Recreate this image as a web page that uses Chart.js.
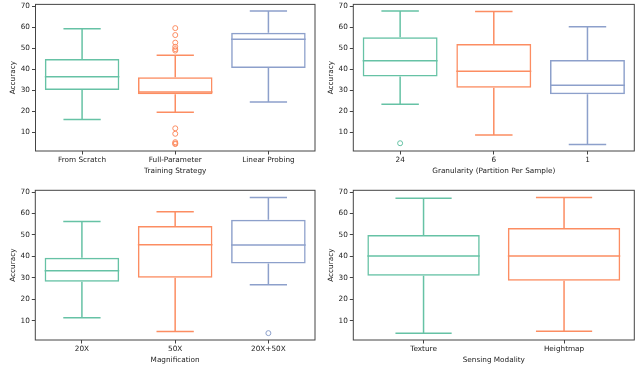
<!DOCTYPE html>
<html>
<head>
<meta charset="utf-8">
<script src="https://cdn.jsdelivr.net/npm/chart.js@4"></script>
<style>
  html, body { margin: 0; padding: 0; background: #fff; }
  #wrap { position: relative; width: 640px; height: 366px; overflow: hidden; }
  canvas { position: absolute; }
</style>
</head>
<body>
<div id="wrap">
  <canvas id="strategyChart" width="320" height="183" style="left:0;top:-2px"></canvas>
  <canvas id="granularityChart" width="320" height="183" style="left:320px;top:-2px"></canvas>
  <canvas id="magnificationChart" width="320" height="183" style="left:0;top:183px"></canvas>
  <canvas id="modalityChart" width="320" height="183" style="left:320px;top:183px"></canvas>
</div>
<script>
// box stats (whisker low, q1, median, q3, whisker high, fliers)
const yTicks = [10, 20, 30, 40, 50, 60, 70];
const setColors = ['#66c2a5', '#fc8d62', '#8da0cb'];

const strategyLabels = ['From Scratch', 'Full-Parameter', 'Linear Probing'];
const strategyLow = [16.0, 19.5, 24.3];
const strategyQ1 = [30.0, 28.0, 40.5];
const strategyMedian = [36.3, 29.1, 54.2];
const strategyQ3 = [44.8, 36.1, 57.3];
const strategyHigh = [59.2, 46.6, 67.6];
const strategyOutliers = [[], [59.5, 56.2, 52.6, 50.6, 49.5, 48.8, 11.8, 9.2, 5.2, 4.6, 4.3], []];

const granularityLabels = ['24', '6', '1'];
const granularityLow = [23.3, 8.6, 4.1];
const granularityQ1 = [36.5, 31.1, 28.0];
const granularityMedian = [44.0, 39.0, 32.3];
const granularityQ3 = [55.1, 51.9, 44.3];
const granularityHigh = [67.6, 67.4, 60.2];
const granularityOutliers = [[4.7], [], []];

const magnificationLabels = ['20X', '50X', '20X+50X'];
const magnificationLow = [11.4, 5.0, 26.8];
const magnificationQ1 = [28.2, 30.0, 36.7];
const magnificationMedian = [33.3, 45.4, 45.3];
const magnificationQ3 = [39.4, 54.1, 57.1];
const magnificationHigh = [56.2, 60.8, 67.5];
const magnificationOutliers = [[], [], [4.2]];

const modalityLabels = ['Texture', 'Heightmap'];
const modalityLow = [4.2, 5.1];
const modalityQ1 = [31.0, 28.6];
const modalityMedian = [40.2, 40.2];
const modalityQ3 = [49.9, 53.2];
const modalityHigh = [67.1, 67.4];
const modalityOutliers = [[], []];

Chart.defaults.font.family = 'DejaVu Sans';
Chart.defaults.font.size = 7.3;
Chart.defaults.color = '#222';

// whiskers, caps, medians and the full frame
const boxPlugin = {
    id: 'boxWhiskers',
    afterDatasetsDraw(chart) {
        const ctx = chart.ctx;
        const yScale = chart.scales.y;
        const ds = chart.data.datasets[0];
        const bars = chart.getDatasetMeta(0).data;
        ctx.save();
        ctx.lineWidth = 1.5;
        bars.forEach((bar, i) => {
            const { x, width } = bar.getProps(['x', 'width'], true);
            const half = width / 2;
            const yLow = yScale.getPixelForValue(ds.stats.low[i]);
            const yQ1 = yScale.getPixelForValue(ds.stats.q1[i]);
            const yMed = yScale.getPixelForValue(ds.stats.median[i]);
            const yQ3 = yScale.getPixelForValue(ds.stats.q3[i]);
            const yHigh = yScale.getPixelForValue(ds.stats.high[i]);
            ctx.strokeStyle = ds.borderColor[i];
            ctx.beginPath();
            ctx.moveTo(x, yQ1); ctx.lineTo(x, yLow);
            ctx.moveTo(x - half / 2, yLow); ctx.lineTo(x + half / 2, yLow);
            ctx.moveTo(x, yQ3); ctx.lineTo(x, yHigh);
            ctx.moveTo(x - half / 2, yHigh); ctx.lineTo(x + half / 2, yHigh);
            ctx.moveTo(x - half, yMed); ctx.lineTo(x + half, yMed);
            ctx.stroke();
        });
        const a = chart.chartArea;
        ctx.strokeStyle = '#444';
        ctx.lineWidth = 1;
        ctx.strokeRect(a.left, a.top, a.right - a.left, a.bottom - a.top);
        ctx.restore();
    }
};

function makeBoxChart(id, labels, low, q1, median, q3, high, outliers, xTitle, pad) {
    const colors = setColors.slice(0, labels.length);
    const fliers = [];
    const flierColors = [];
    outliers.forEach((list, i) => {
        list.forEach(v => {
            fliers.push({ x: labels[i], y: v });
            flierColors.push(colors[i]);
        });
    });

    return new Chart(document.getElementById(id), {
        type: 'bar',
        data: {
            labels: labels,
            datasets: [{
                data: labels.map((_, i) => [q1[i], q3[i]]),
                stats: { low, q1, median, q3, high },
                backgroundColor: 'rgba(255,255,255,0)',
                borderColor: colors,
                borderWidth: 1.5,
                borderSkipped: false,
                barPercentage: 0.8,
                categoryPercentage: 1.0
            }, {
                type: 'line',
                data: fliers,
                showLine: false,
                pointRadius: 2.5,
                pointBorderWidth: 1,
                pointBorderColor: flierColors,
                pointBackgroundColor: 'rgba(255,255,255,0)'
            }]
        },
        options: {
            responsive: false,
            animation: false,
            layout: { padding: pad },
            plugins: {
                legend: { display: false },
                tooltip: { enabled: false }
            },
            scales: {
                x: {
                    offset: true,
                    afterFit: s => { s.height = 24; },
                    grid: { drawOnChartArea: false, offset: false, tickLength: 3.5, tickColor: '#444' },
                    border: { display: false },
                    ticks: { padding: 1, maxRotation: 0, autoSkip: false },
                    title: { display: true, text: xTitle, padding: 0 }
                },
                y: {
                    min: 1,
                    max: 70.8,
                    afterBuildTicks: s => { s.ticks = yTicks.map(v => ({ value: v })); },
                    afterFit: s => { s.width = 27; },
                    grid: { drawOnChartArea: false, tickLength: 3.5, tickColor: '#444' },
                    border: { display: false },
                    ticks: { padding: 2 },
                    title: { display: true, text: 'Accuracy', padding: 0 }
                }
            }
        },
        plugins: [boxPlugin]
    });
}

makeBoxChart('strategyChart', strategyLabels, strategyLow, strategyQ1, strategyMedian,
    strategyQ3, strategyHigh, strategyOutliers, 'Training Strategy',
    { left: 8.5, right: 3.3, top: 1.2, bottom: 6 });

makeBoxChart('granularityChart', granularityLabels, granularityLow, granularityQ1, granularityMedian,
    granularityQ3, granularityHigh, granularityOutliers, 'Granularity (Partition Per Sample)',
    { left: 6.3, right: 5.7, top: 1.2, bottom: 6 });

makeBoxChart('magnificationChart', magnificationLabels, magnificationLow, magnificationQ1, magnificationMedian,
    magnificationQ3, magnificationHigh, magnificationOutliers, 'Magnification',
    { left: 8.3, right: 3.3, top: 7.3, bottom: 2 });

makeBoxChart('modalityChart', modalityLabels, modalityLow, modalityQ1, modalityMedian,
    modalityQ3, modalityHigh, modalityOutliers, 'Sensing Modality',
    { left: 6.3, right: 5.7, top: 7.3, bottom: 2 });
</script>
</body>
</html>
